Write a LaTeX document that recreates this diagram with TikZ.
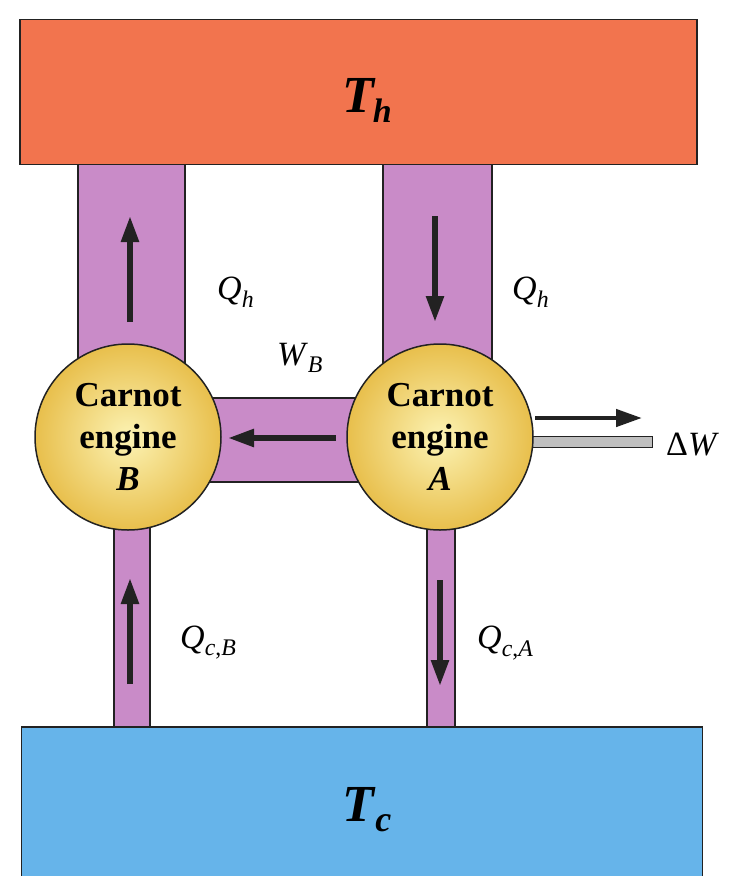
\documentclass[tikz,border=0pt]{standalone}
\usepackage{fontspec}
\setmainfont{Liberation Serif}
\usetikzlibrary{arrows.meta}
\definecolor{hotc}{HTML}{F2744E}
\definecolor{coldc}{HTML}{66B4EA}
\definecolor{pipec}{HTML}{C98BC8}
\definecolor{engin}{HTML}{FCF3B4}
\definecolor{engout}{HTML}{E8BF4C}
\definecolor{edgec}{HTML}{222222}
\newcommand{\lblQ}[1]{\textit{Q}\textsubscript{\textit{#1}}}
\begin{document}
\begin{tikzpicture}[x=1pt,y=-1pt,
  reservoir/.style={draw=edgec, line width=1.4pt, minimum width=677pt, minimum height=145pt, inner sep=0pt},
  pipe/.style={fill=pipec, draw=edgec, line width=1.1pt},
  engine/.style={circle, draw=edgec, line width=1.5pt, minimum size=186pt, inner sep=0pt,
     inner color=engin, outer color=engout, align=center, font=\fontsize{35}{42}\selectfont\bfseries},
  flow/.style={-{Triangle[length=26pt,width=17pt]}, line width=5.5pt, draw=edgec},
  lbl/.style={font=\fontsize{34}{38}\selectfont, inner sep=0pt},
  templbl/.style={font=\fontsize{52}{56}\selectfont\bfseries\itshape, inner sep=0pt}
]
\useasboundingbox (0,0) rectangle (737,876);
\fill[white] (0,0) rectangle (737,876);
% pipes
\draw[pipe] (78,163) rectangle (185,380);
\draw[pipe] (383,163) rectangle (492,380);
\draw[pipe] (200,398) rectangle (370,482);
\draw[pipe] (114,490) rectangle (150,729);
\draw[pipe] (427,490) rectangle (455,729);
\draw[draw=edgec, fill=black!25, line width=1pt] (520,436) rectangle (652,447);
% reservoirs
\node[reservoir, fill=hotc] (hot) at (358.5,92) {};
\node[reservoir, fill=coldc, minimum width=681pt, minimum height=150pt] (cold) at (362,802) {};
\node[templbl] (thl) at (367,100) {T\kern-1pt\raisebox{-10pt}{\fontsize{34}{34}\selectfont h}};
\node[templbl] (tcl) at (367,810) {T\kern1pt\raisebox{-10pt}{\fontsize{36}{36}\selectfont c}};
% engines
\node[engine] (B) at (128,437) {Carnot\\engine\\\textit{B}};
\node[engine] (A) at (440,437) {Carnot\\engine\\\textit{A}};
% coordinates for arrows
\coordinate (b1s) at (130,322); \coordinate (b1e) at (130,216);
\coordinate (a1s) at (435,216); \coordinate (a1e) at (435,322);
\coordinate (ws) at (336,438); \coordinate (we) at (228,438);
\coordinate (dws) at (535,418); \coordinate (dwe) at (642,418);
\coordinate (b2s) at (130,684); \coordinate (b2e) at (130,578);
\coordinate (a2s) at (440,580); \coordinate (a2e) at (440,686);
\draw[flow] (b1s) -- (b1e);
\draw[flow] (a1s) -- (a1e);
\draw[flow] (ws) -- (we);
\draw[flow, line width=4.5pt] (dws) -- (dwe);
\draw[flow] (b2s) -- (b2e);
\draw[flow] (a2s) -- (a2e);
% labels
\node[lbl, anchor=west] (qhB) at (217,292) {\lblQ{h}};
\node[lbl, anchor=west] (qhA) at (512,292) {\lblQ{h}};
\node[lbl] (wb) at (300,358) {\textit{W}\textsubscript{\textit{B}}};
\node[lbl, anchor=west] (dw) at (666,445) {Δ\textit{W}};
\node[lbl, anchor=west] (qcB) at (180,643) {\textit{Q}\textsubscript{\textit{c},\textit{B}}};
\node[lbl, anchor=west] (qcA) at (477,643) {\textit{Q}\textsubscript{\textit{c},\textit{A}}};
\end{tikzpicture}
\end{document}
